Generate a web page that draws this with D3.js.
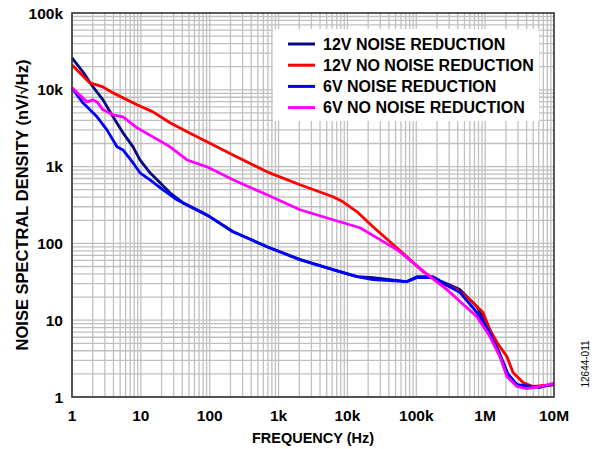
<!DOCTYPE html>
<html>
<head>
<meta charset="utf-8">
<script src="https://cdn.jsdelivr.net/npm/d3@7"></script>
<style>
body { margin: 0; background: #fff; }
text { font-family: "Liberation Sans", Arial, sans-serif; }
</style>
</head>
<body>
<svg width="600" height="449"></svg>
<script>
// series, [frequency Hz, nV/rtHz]
var nr12 = [[1, 26000], [1.44, 17100], [2.02, 10900], [2.82, 7390], [3.94, 4450], [5.5, 2750],
    [7.7, 1810], [9.7, 1220], [13.6, 830], [19, 615], [26.5, 456], [41, 338], [80, 251],
    [101, 222], [218, 142], [679, 90.6], [2050, 61.4], [6170, 45.5], [13800, 36.9], [23500, 35.8],
    [73000, 31.8], [102000, 36.9], [175000, 36.9], [221000, 32.7], [431000, 25], [761000, 15],
    [1170000, 7.55], [1540000, 4.15], [1940000, 2.49], [2300000, 1.69], [3200000, 1.37],
    [6260000, 1.37], [10000000, 1.45]]
var noNr12 = [[1, 21100], [1.82, 12300], [2.82, 10900], [3.94, 9120], [8.8, 6370], [15, 5160],
    [26.5, 3720], [47, 2840], [91, 2100], [218, 1420], [679, 855], [2050, 580], [6170, 405],
    [8610, 348], [13800, 258], [23500, 165], [41500, 105], [73000, 67.1], [125000, 42.9],
    [221000, 30.8], [390000, 25], [603000, 18.5], [931000, 12.6], [1170000, 7.55], [1490000, 5.12],
    [2070000, 3.36], [2540000, 2.08], [3550000, 1.54], [4950000, 1.37], [10000000, 1.45]]
var nr6 = [[1, 10600], [1.44, 6760], [2.31, 4450], [3.22, 3010], [4.5, 1810], [5.5, 1650],
    [7.7, 1120], [9.7, 830], [13.6, 673], [21, 499], [33.5, 370], [52, 300], [101, 222],
    [218, 142], [679, 90.6], [2050, 61.4], [6170, 45.5], [13800, 36.9], [23500, 33.7],
    [73000, 31.8], [102000, 35.8], [175000, 35.8], [221000, 31.8], [431000, 22.9], [761000, 12.6],
    [1170000, 6.9], [1640000, 3.36], [2070000, 2.08], [2900000, 1.45], [6260000, 1.33], [10000000, 1.5]]
var noNr6 = [[1, 10600], [1.65, 6960], [2.02, 7390], [2.31, 6960], [2.82, 5480], [3.94, 4720],
    [5.5, 4450], [8.8, 3200], [15, 2440], [26.5, 1810], [47, 1220], [91, 993], [218, 673],
    [679, 430], [2050, 274], [6170, 203], [15200, 160], [29700, 112], [52500, 82.8], [89500, 56.1],
    [158000, 36.9], [279000, 25], [431000, 17.5], [761000, 11.1], [1170000, 6.12], [1640000, 3.36],
    [2070000, 1.85], [2900000, 1.37], [4050000, 1.29], [6260000, 1.37], [10000000, 1.5]]

var seriesNames = ["12V NOISE REDUCTION", "12V NO NOISE REDUCTION", "6V NOISE REDUCTION", "6V NO NOISE REDUCTION"]
var seriesData = [nr12, noNr12, nr6, noNr6]
var seriesColors = ["#0a0a80", "#ff0000", "#0000ff", "#ff00ff"]
var xTickLabels = ["1", "10", "100", "1k", "10k", "100k", "1M", "10M"]
var yTickLabels = ["1", "10", "100", "1k", "10k", "100k"]

var svg = d3.select("svg")
var plotLeft = 72, plotRight = 554, plotTop = 13, plotBottom = 397

var x = d3.scaleLog().domain([1, 1e7]).range([plotLeft, plotRight])
var y = d3.scaleLog().domain([1, 1e5]).range([plotBottom, plotTop])

// grid
var xGrid = [], yGrid = []
for (var e = 0; e < 7; e++) for (var m = 1; m < 10; m++) xGrid.push(m * Math.pow(10, e))
for (var e = 0; e < 5; e++) for (var m = 1; m < 10; m++) yGrid.push(m * Math.pow(10, e))

svg.append("g").selectAll("line").data(xGrid).enter().append("line")
    .attr("x1", d => x(d)).attr("x2", d => x(d))
    .attr("y1", plotTop).attr("y2", plotBottom)
    .attr("stroke", "#c0c0c0").attr("stroke-width", 1.3)
svg.append("g").selectAll("line").data(yGrid).enter().append("line")
    .attr("y1", d => y(d)).attr("y2", d => y(d))
    .attr("x1", plotLeft).attr("x2", plotRight)
    .attr("stroke", "#c0c0c0").attr("stroke-width", 1.3)

// legend box
svg.append("rect").attr("x", 273).attr("y", 29).attr("width", 266).attr("height", 92).attr("fill", "#fff")

var line = d3.line().x(d => x(d[0])).y(d => y(d[1]))

svg.append("g").selectAll("path").data(seriesData).enter().append("path")
    .attr("d", line)
    .attr("fill", "none")
    .attr("stroke", (d, i) => seriesColors[i])
    .attr("stroke-width", 2.8)
    .attr("stroke-linejoin", "round")

// frame
svg.append("rect").attr("x", plotLeft).attr("y", plotTop)
    .attr("width", plotRight - plotLeft).attr("height", plotBottom - plotTop)
    .attr("fill", "none").attr("stroke", "#333").attr("stroke-width", 1.6)

// axes labels
svg.append("g").selectAll("text").data(xTickLabels).enter().append("text")
    .attr("x", (d, i) => x(Math.pow(10, i)))
    .attr("y", 421)
    .attr("text-anchor", "middle")
    .style("font-size", "15.5px").style("font-weight", "bold")
    .text(d => d)

svg.append("g").selectAll("text").data(yTickLabels).enter().append("text")
    .attr("x", 63)
    .attr("y", (d, i) => y(Math.pow(10, i)) + 5.5)
    .attr("text-anchor", "end")
    .style("font-size", "15.5px").style("font-weight", "bold")
    .text(d => d)

svg.append("text").attr("x", (plotLeft + plotRight) / 2).attr("y", 443)
    .attr("text-anchor", "middle")
    .style("font-size", "14.5px").style("font-weight", "bold")
    .text("FREQUENCY (Hz)")

svg.append("text")
    .attr("transform", "translate(28," + (plotTop + plotBottom) / 2 + ") rotate(-90)")
    .attr("text-anchor", "middle")
    .style("font-size", "16.5px").style("font-weight", "bold")
    .text("NOISE SPECTRAL DENSITY (nV/\u221AHz)")

svg.append("text")
    .attr("transform", "translate(589,364) rotate(-90)")
    .attr("text-anchor", "middle")
    .style("font-size", "10px")
    .text("12644-011")

// legend
var leg = svg.append("g").selectAll("g").data(seriesNames).enter().append("g")
    .attr("transform", (d, i) => "translate(288," + (44 + i * 21.2) + ")")
leg.append("line").attr("x1", 0).attr("x2", 27)
    .attr("stroke", (d, i) => seriesColors[i]).attr("stroke-width", 3)
leg.append("text").attr("x", 35).attr("y", 5.5)
    .style("font-size", "16px").style("font-weight", "bold")
    .text(d => d)
</script>
</body>
</html>
